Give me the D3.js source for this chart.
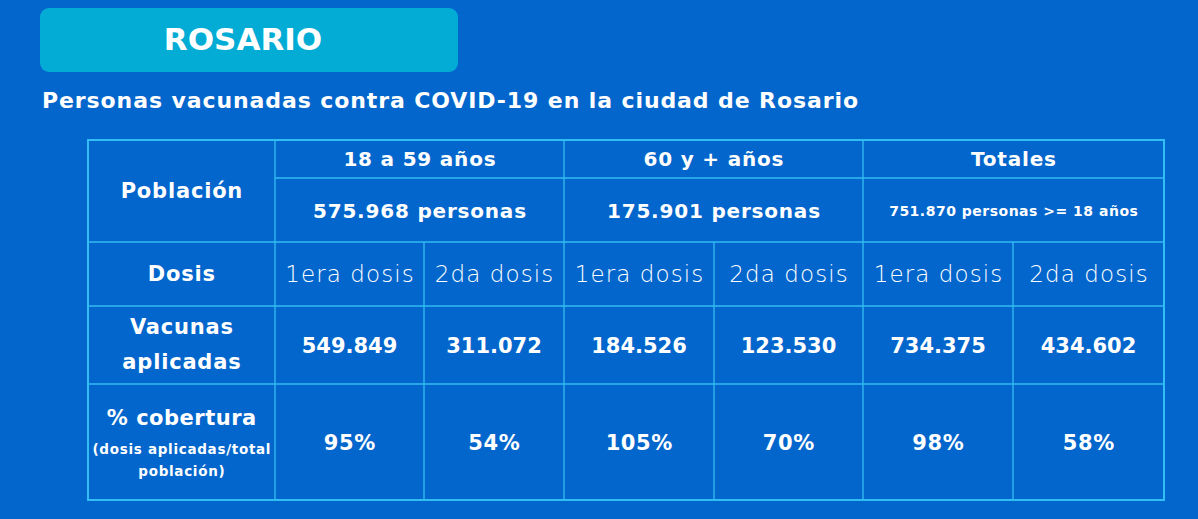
<!DOCTYPE html>
<html><head><meta charset="utf-8">
<script src="https://cdn.jsdelivr.net/npm/d3@7/dist/d3.min.js"></script>
<style>
html,body{margin:0;padding:0;background:#0366cc;}
svg{display:block;}
text{font-family:"DejaVu Sans",sans-serif;fill:#fff;}
</style></head><body>
<svg id="c" width="1198" height="519"></svg>
<script>
// ---- data ----
const city = "ROSARIO";
const subtitle = "Personas vacunadas contra COVID-19 en la ciudad de Rosario";
const groups = ["18 a 59 años", "60 y + años", "Totales"];
const population = ["575.968 personas", "175.901 personas", "751.870 personas >= 18 años"];
const doses = ["1era dosis", "2da dosis"];
const vaccinesApplied = [549849, 311072, 184526, 123530, 734375, 434602];
const coverage = [95, 54, 105, 70, 98, 58];
const rowLabels = ["Población", "Dosis", ["Vacunas", "aplicadas"], ["% cobertura"]];
const coverageNote = ["(dosis aplicadas/total", "población)"];

// ---- layout ----
const svg = d3.select("#c");
const tableLeft = 88, tableRight = 1164;
const colEdges = [275, 424, 564, 714, 863, 1013, 1164];
const rowEdges = [140, 242, 306, 384, 500];
const splitY = 178;
const lineColor = "#33bdf2";

const cols = d3.range(groups.length * doses.length);
const x0 = d3.scaleOrdinal().domain(d3.range(colEdges.length)).range(colEdges);
const xc = c => (x0(c) + x0(c + 1)) / 2;
const gc = i => (x0(i * 2) + x0(i * 2 + 2)) / 2;

const fmt = d3.formatLocale({decimal: ",", thousands: ".", grouping: [3], currency: ["$", ""]}).format(",d");

// header
svg.append("rect").attr("x", 40).attr("y", 8).attr("width", 418).attr("height", 64)
  .attr("rx", 9).attr("fill", "#03acd5");
svg.append("text").attr("x", 243).attr("y", 50).attr("text-anchor", "middle")
  .attr("font-size", 31).attr("font-weight", 700).text(city);
svg.append("text").attr("x", 42).attr("y", 108)
  .attr("font-size", 22).attr("font-weight", 700).attr("letter-spacing", 0.9).text(subtitle);

const g = svg.append("g");

// grid lines
const lines = g.append("g").attr("stroke", lineColor).attr("stroke-width", 1.3).attr("fill", "none");
lines.append("rect").attr("x", tableLeft).attr("y", rowEdges[0])
  .attr("width", tableRight - tableLeft).attr("height", rowEdges[4] - rowEdges[0]).attr("stroke-width", 2);
rowEdges.slice(1, 4).forEach(y => lines.append("line").attr("x1", tableLeft).attr("x2", tableRight).attr("y1", y).attr("y2", y));
lines.append("line").attr("x1", colEdges[0]).attr("x2", tableRight).attr("y1", splitY).attr("y2", splitY);
colEdges.slice(0, -1).forEach((e, i) => lines.append("line")
  .attr("x1", x0(i)).attr("x2", x0(i))
  .attr("y1", i % 2 === 0 ? rowEdges[0] : rowEdges[1]).attr("y2", rowEdges[4]));

const labelX = (tableLeft + colEdges[0]) / 2;
function txt(xp, yp, s, size, weight, ls) {
  ls = ls || 0;
  return g.append("text").attr("x", xp + ls / 2).attr("y", yp).attr("text-anchor", "middle")
    .attr("dominant-baseline", "central").attr("font-size", size).attr("font-weight", weight)
    .attr("letter-spacing", ls).text(s);
}

// row labels
txt(labelX, 191, rowLabels[0], 21, 700, 0.8);
txt(labelX, 274, rowLabels[1], 21, 700, 0.8);
txt(labelX, 327, rowLabels[2][0], 21, 700, 0.8);
txt(labelX, 362, rowLabels[2][1], 21, 700, 0.8);
txt(labelX, 418, rowLabels[3][0], 21, 700, 0.5);
txt(labelX, 449, coverageNote[0], 13.5, 700, 0.7);
txt(labelX, 471, coverageNote[1], 13.5, 700, 0.7);

// group headers
groups.forEach((d, i) => {
  txt(gc(i), 159, d, 20, 700, 0.8);
  if (i === 2) txt(gc(i), 211, population[i], 14, 700, 0.5);
  else txt(gc(i), 211, population[i], 20, 700, 0.8);
});

// doses, values
cols.forEach(c => {
  txt(xc(c), 274, doses[c % 2], 23, 200, 1.1);
  txt(xc(c), 346, fmt(vaccinesApplied[c]), 21, 700, 0);
  txt(xc(c), 443, coverage[c] + "%", 21, 700, 0.6);
});
</script>
</body></html>
